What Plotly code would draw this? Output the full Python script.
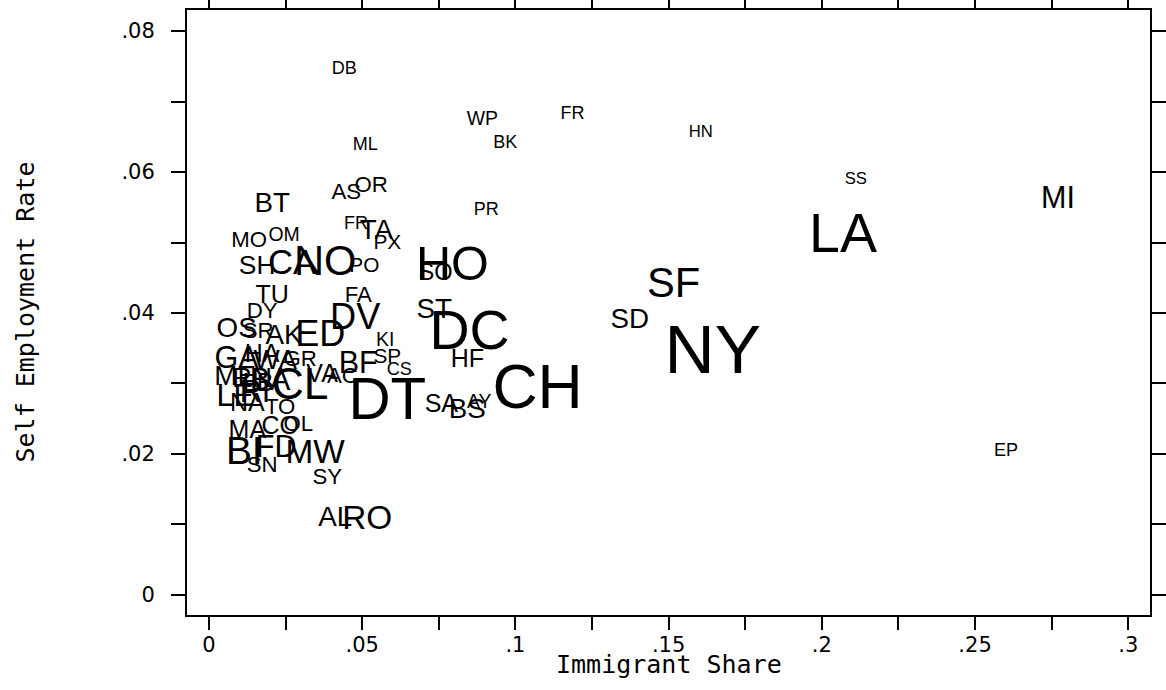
import plotly.graph_objects as go

# City labels, immigrant share (x), self-employment rate (y), relative weight (population proxy)
cities = ["DB","WP","FR","HN","BK","ML","SS","MI","AS","OR","BT","PR","FR","TA","PX","LA",
          "MO","OM","SH","CA","NO","PO","HO","SO","SF","TU","FA","ST","SD","DV","DC","NY",
          "CH","DT","HF","KI","SP","CS","BF","SA","BS","AY","EP","AL","RO","SY","MW","BI",
          "FD","SN","MA","CO","OL","OS","DY","SR","AK","ED","GR","GA","HA","WA","ME","RN",
          "BA","CL","VA","AC","LE","RI","NA","TO","LB"]
immigrant_share = [0.0441,0.0892,0.1186,0.1605,0.0967,0.0510,0.2111,0.2771,0.0448,0.0529,0.0206,0.0905,
                   0.0480,0.0546,0.0582,0.2069,0.0131,0.0245,0.0157,0.0271,0.0379,0.0507,0.0794,0.0739,
                   0.1516,0.0206,0.0487,0.0735,0.1373,0.0477,0.0850,0.1644,0.1072,0.0582,0.0843,0.0575,
                   0.0582,0.0621,0.0487,0.0758,0.0843,0.0882,0.2601,0.0412,0.0516,0.0386,0.0346,0.0115,
                   0.0219,0.0173,0.0125,0.0232,0.0291,0.0090,0.0173,0.0160,0.0245,0.0363,0.0297,0.0090,
                   0.0173,0.0216,0.0085,0.0140,0.0199,0.0297,0.0369,0.0435,0.0085,0.0150,0.0125,0.0232,
                   0.0160]
self_emp_rate = [0.0746,0.0674,0.0681,0.0655,0.0641,0.0638,0.0589,0.0560,0.0570,0.0580,0.0553,0.0545,
                 0.0526,0.0515,0.0498,0.0506,0.0501,0.0509,0.0465,0.0468,0.0468,0.0465,0.0464,0.0455,
                 0.0437,0.0423,0.0423,0.0403,0.0389,0.0390,0.0369,0.0340,0.0288,0.0270,0.0332,0.0360,
                 0.0336,0.0318,0.0326,0.0268,0.0261,0.0272,0.0203,0.0108,0.0106,0.0166,0.0199,0.0199,
                 0.0206,0.0183,0.0231,0.0237,0.0241,0.0376,0.0401,0.0372,0.0366,0.0366,0.0333,0.0333,
                 0.0340,0.0330,0.0308,0.0305,0.0302,0.0294,0.0311,0.0309,0.0279,0.0284,0.0270,0.0265,
                 0.0298]
weight = [13,14,13,12,13,13,12,22,16,16,20,13,13,20,15,40,16,14,19,25,30,15,35,17,30,18,16,20,20,26,
          40,50,45,42,18,14,15,13,22,18,20,14,13,20,24,16,24,28,22,16,18,18,16,20,16,16,20,26,16,22,
          18,20,20,20,22,32,18,16,22,22,18,16,18]

x_tickvals = [0,0.025,0.05,0.075,0.1,0.125,0.15,0.175,0.2,0.225,0.25,0.275,0.3]
x_ticktext = ["0","",".05","",".1","",".15","",".2","",".25","",".3"]
y_tickvals = [0,0.01,0.02,0.03,0.04,0.05,0.06,0.07,0.08]
y_ticktext = ["0","",".02","",".04","",".06","",".08"]

font_sizes = [w / 0.72 for w in weight]

fig = go.Figure(go.Scatter(
    x=immigrant_share, y=self_emp_rate, text=cities, mode="text",
    textposition="middle center",
    textfont=dict(family="Liberation Sans, Arial, sans-serif", size=font_sizes, color="black"),
    cliponaxis=False, hoverinfo="text"))

axis_common = dict(showline=True, linecolor="black", linewidth=2, mirror="ticks",
                   ticks="outside", tickwidth=2, tickcolor="black", showgrid=False,
                   zeroline=False, automargin=False,
                   tickfont=dict(family="DejaVu Sans, sans-serif", size=21, color="black"))

fig.update_xaxes(range=[-0.0072, 0.3071], tickmode="array", tickvals=x_tickvals,
                 ticktext=x_ticktext, ticklen=13, ticklabelstandoff=-3, **axis_common)
fig.update_yaxes(range=[-0.00284, 0.08298], tickmode="array", tickvals=y_tickvals,
                 ticktext=y_ticktext, ticklen=14, ticklabelstandoff=12, **axis_common)

fig.update_layout(
    width=1166, height=690, autosize=False,
    margin=dict(l=187, r=16, t=10, b=75),
    plot_bgcolor="white", paper_bgcolor="white", showlegend=False,
    annotations=[
        dict(text="Immigrant Share", xref="paper", yref="paper", x=0.5, y=0,
             xanchor="center", yanchor="middle", yshift=-49, showarrow=False,
             font=dict(family="DejaVu Sans Mono, monospace", size=25, color="black")),
        dict(text="Self Employment Rate", xref="paper", yref="paper", x=0, y=0.5,
             xanchor="center", yanchor="middle", xshift=-162, textangle=-90, showarrow=False,
             font=dict(family="DejaVu Sans Mono, monospace", size=25, color="black")),
    ])

fig.write_html("out.html")
